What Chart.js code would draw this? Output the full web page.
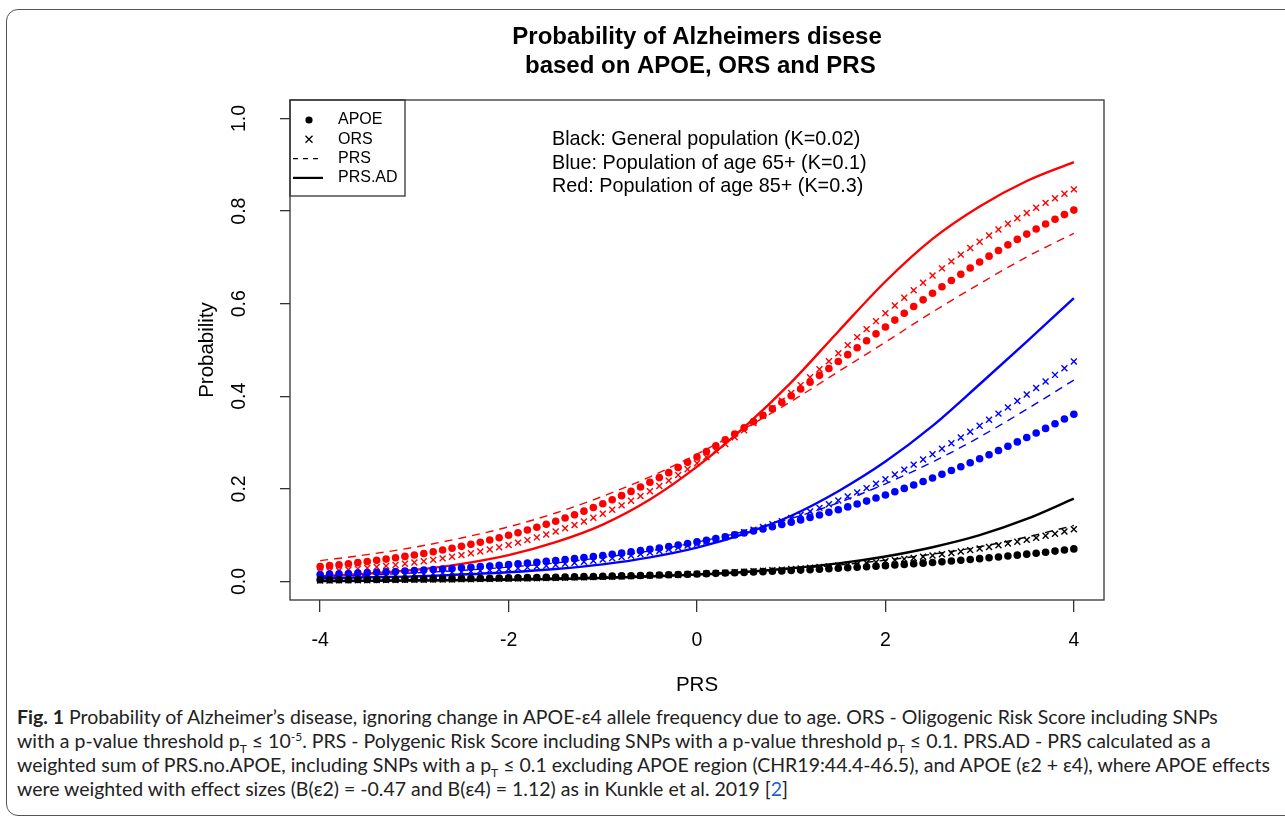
<!DOCTYPE html>
<html>
<head>
<meta charset="utf-8">
<title>Probability of Alzheimers disese</title>
<script src="https://cdn.jsdelivr.net/npm/chart.js@4.4.1/dist/chart.umd.min.js"></script>
<style>
  body { margin: 0; background: #fff; }
  #frame { position: absolute; left: 6px; top: 9px; width: 1300px; height: 805px; border: 1.5px solid #555; border-radius: 12px; }
  #wrap { position: absolute; left: 0; top: 0; width: 1285px; height: 700px; }
  #caption { position: absolute; left: 17px; top: 705px; font-family: Lato, 'Open Sans', sans-serif; font-size: 19.5px; line-height: 24px; color: #222; }
  #caption div { white-space: nowrap; }
  #caption sub, #caption sup { font-size: 12px; line-height: 0; }
  .ref { color: #1f5fc6; }
</style>
</head>
<body>
<div id="frame"></div>
<div id="wrap"><canvas id="chart" width="1285" height="700"></canvas></div>
<div id="caption">
  <div><b>Fig. 1</b> Probability of Alzheimer’s disease, ignoring change in APOE-ε4 allele frequency due to age. ORS - Oligogenic Risk Score including SNPs</div>
  <div>with a p-value threshold p<sub>T</sub> ≤ 10<sup>-5</sup>. PRS - Polygenic Risk Score including SNPs with a p-value threshold p<sub>T</sub> ≤ 0.1. PRS.AD - PRS calculated as a</div>
  <div>weighted sum of PRS.no.APOE, including SNPs with a p<sub>T</sub> ≤ 0.1 excluding APOE region (CHR19:44.4-46.5), and APOE (ε2 + ε4), where APOE effects</div>
  <div>were weighted with effect sizes (B(ε2) = -0.47 and B(ε4) = 1.12) as in Kunkle et al. 2019 [<span class="ref">2</span>]</div>
</div>
<script>
// PRS values where the points were plotted
const prsPoints = [
  -4.0, -3.9, -3.8, -3.7, -3.6, -3.5, -3.4, -3.3, -3.2, -3.1,
  -3.0, -2.9, -2.8, -2.7, -2.6, -2.5, -2.4, -2.3, -2.2, -2.1,
  -2.0, -1.9, -1.8, -1.7, -1.6, -1.5, -1.4, -1.3, -1.2, -1.1,
  -1.0, -0.9, -0.8, -0.7, -0.6, -0.5, -0.4, -0.3, -0.2, -0.1,
  0.0, 0.1, 0.2, 0.3, 0.4, 0.5, 0.6, 0.7, 0.8, 0.9,
  1.0, 1.1, 1.2, 1.3, 1.4, 1.5, 1.6, 1.7, 1.8, 1.9,
  2.0, 2.1, 2.2, 2.3, 2.4, 2.5, 2.6, 2.7, 2.8, 2.9,
  3.0, 3.1, 3.2, 3.3, 3.4, 3.5, 3.6, 3.7, 3.8, 3.9,
  4.0
];
// PRS values for the line curves
const prsLine = [-4, -3.5, -3, -2.5, -2, -1.5, -1, -0.5, 0, 0.5, 1, 1.5, 2, 2.5, 3, 3.5, 4];

const xTicks = [-4, -2, 0, 2, 4];
const yTicks = [0, 0.2, 0.4, 0.6, 0.8, 1.0];

// Red: age 85+ (K=0.3)
const redApoe = [
  0.0323, 0.0342, 0.0363, 0.0384, 0.0407, 0.0431, 0.0456, 0.0483, 0.0512, 0.0542,
  0.0573, 0.0606, 0.0642, 0.0679, 0.0717, 0.0759, 0.0802, 0.0847, 0.0895, 0.0945,
  0.0997, 0.1053, 0.1111, 0.1171, 0.1235, 0.1301, 0.1370, 0.1443, 0.1519, 0.1598,
  0.1680, 0.1766, 0.1854, 0.1946, 0.2042, 0.2142, 0.2244, 0.2351, 0.2461, 0.2573,
  0.2689, 0.2808, 0.2932, 0.3058, 0.3186, 0.3318, 0.3452, 0.3589, 0.3729, 0.3870,
  0.4013, 0.4158, 0.4305, 0.4452, 0.4601, 0.4750, 0.4900, 0.5050, 0.5200, 0.5349,
  0.5498, 0.5646, 0.5793, 0.5939, 0.6083, 0.6225, 0.6365, 0.6502, 0.6637, 0.6770,
  0.6900, 0.7027, 0.7150, 0.7271, 0.7389, 0.7503, 0.7613, 0.7721, 0.7824, 0.7925,
  0.8022
];
const redOrs = [
  0.0208, 0.0223, 0.0239, 0.0255, 0.0273, 0.0292, 0.0313, 0.0335, 0.0358, 0.0383,
  0.0409, 0.0437, 0.0467, 0.0499, 0.0533, 0.0569, 0.0608, 0.0648, 0.0692, 0.0738,
  0.0787, 0.0839, 0.0894, 0.0952, 0.1014, 0.1079, 0.1148, 0.1220, 0.1297, 0.1377,
  0.1462, 0.1550, 0.1644, 0.1742, 0.1844, 0.1950, 0.2062, 0.2178, 0.2299, 0.2424,
  0.2554, 0.2689, 0.2827, 0.2970, 0.3117, 0.3268, 0.3423, 0.3581, 0.3743, 0.3907,
  0.4073, 0.4242, 0.4413, 0.4585, 0.4758, 0.4931, 0.5105, 0.5278, 0.5451, 0.5623,
  0.5793, 0.5962, 0.6128, 0.6291, 0.6452, 0.6609, 0.6763, 0.6914, 0.7060, 0.7202,
  0.7340, 0.7474, 0.7602, 0.7727, 0.7846, 0.7961, 0.8072, 0.8178, 0.8279, 0.8376,
  0.8469
];
const redPrs = [0.045, 0.058, 0.074, 0.094, 0.118, 0.148, 0.184, 0.226, 0.275, 0.330, 0.389, 0.453, 0.517, 0.582, 0.643, 0.701, 0.752];
const redPrsAd = [0.011, 0.017, 0.025, 0.038, 0.057, 0.085, 0.123, 0.177, 0.248, 0.333, 0.430, 0.540, 0.648, 0.740, 0.810, 0.865, 0.906];

// Blue: age 65+ (K=0.1)
const blueApoe = [
  0.0152, 0.0159, 0.0166, 0.0174, 0.0182, 0.0190, 0.0198, 0.0207, 0.0217, 0.0226,
  0.0237, 0.0247, 0.0258, 0.0270, 0.0282, 0.0295, 0.0308, 0.0321, 0.0336, 0.0351,
  0.0366, 0.0382, 0.0399, 0.0417, 0.0435, 0.0454, 0.0474, 0.0495, 0.0517, 0.0539,
  0.0562, 0.0587, 0.0612, 0.0639, 0.0666, 0.0694, 0.0724, 0.0755, 0.0787, 0.0820,
  0.0855, 0.0891, 0.0928, 0.0966, 0.1006, 0.1048, 0.1091, 0.1135, 0.1182, 0.1230,
  0.1279, 0.1330, 0.1383, 0.1437, 0.1493, 0.1551, 0.1611, 0.1673, 0.1736, 0.1802,
  0.1869, 0.1939, 0.2011, 0.2084, 0.2159, 0.2236, 0.2315, 0.2397, 0.2479, 0.2564,
  0.2650, 0.2739, 0.2829, 0.2921, 0.3015, 0.3111, 0.3208, 0.3307, 0.3407, 0.3509,
  0.3612
];
const blueOrs = [
  0.0087, 0.0092, 0.0097, 0.0103, 0.0109, 0.0115, 0.0122, 0.0129, 0.0137, 0.0145,
  0.0154, 0.0163, 0.0172, 0.0182, 0.0193, 0.0204, 0.0216, 0.0229, 0.0242, 0.0256,
  0.0271, 0.0287, 0.0304, 0.0321, 0.0340, 0.0359, 0.0380, 0.0402, 0.0425, 0.0449,
  0.0474, 0.0501, 0.0529, 0.0559, 0.0591, 0.0624, 0.0659, 0.0695, 0.0734, 0.0774,
  0.0816, 0.0861, 0.0908, 0.0957, 0.1008, 0.1062, 0.1119, 0.1178, 0.1239, 0.1304,
  0.1371, 0.1441, 0.1513, 0.1590, 0.1669, 0.1751, 0.1836, 0.1925, 0.2017, 0.2112,
  0.2210, 0.2311, 0.2416, 0.2524, 0.2634, 0.2749, 0.2866, 0.2986, 0.3109, 0.3234,
  0.3363, 0.3493, 0.3626, 0.3761, 0.3898, 0.4037, 0.4178, 0.4319, 0.4462, 0.4606,
  0.4750
];
const bluePrs = [0.011, 0.014, 0.0185, 0.024, 0.031, 0.040, 0.052, 0.066, 0.085, 0.108, 0.136, 0.170, 0.211, 0.258, 0.312, 0.372, 0.435];
const bluePrsAd = [0.007, 0.009, 0.011, 0.015, 0.020, 0.027, 0.037, 0.052, 0.073, 0.103, 0.142, 0.195, 0.259, 0.336, 0.426, 0.518, 0.612];

// Black: general population (K=0.02)
const blackApoe = [
  0.0036, 0.0037, 0.0039, 0.0040, 0.0042, 0.0044, 0.0045, 0.0047, 0.0049, 0.0051,
  0.0053, 0.0055, 0.0057, 0.0059, 0.0061, 0.0064, 0.0066, 0.0069, 0.0071, 0.0074,
  0.0077, 0.0080, 0.0083, 0.0086, 0.0089, 0.0093, 0.0096, 0.0100, 0.0104, 0.0108,
  0.0112, 0.0116, 0.0121, 0.0125, 0.0130, 0.0135, 0.0140, 0.0146, 0.0151, 0.0157,
  0.0163, 0.0169, 0.0176, 0.0182, 0.0189, 0.0196, 0.0204, 0.0212, 0.0220, 0.0228,
  0.0237, 0.0246, 0.0255, 0.0264, 0.0274, 0.0285, 0.0295, 0.0307, 0.0318, 0.0330,
  0.0342, 0.0355, 0.0368, 0.0382, 0.0396, 0.0411, 0.0426, 0.0442, 0.0458, 0.0475,
  0.0493, 0.0511, 0.0530, 0.0549, 0.0569, 0.0590, 0.0611, 0.0633, 0.0656, 0.0680,
  0.0704
];
const blackOrs = [
  0.0021, 0.0023, 0.0024, 0.0025, 0.0026, 0.0028, 0.0029, 0.0031, 0.0032, 0.0034,
  0.0036, 0.0038, 0.0040, 0.0042, 0.0044, 0.0046, 0.0049, 0.0051, 0.0054, 0.0056,
  0.0059, 0.0062, 0.0066, 0.0069, 0.0073, 0.0076, 0.0081, 0.0085, 0.0089, 0.0094,
  0.0099, 0.0104, 0.0109, 0.0115, 0.0121, 0.0127, 0.0133, 0.0140, 0.0147, 0.0155,
  0.0163, 0.0171, 0.0180, 0.0189, 0.0199, 0.0209, 0.0220, 0.0231, 0.0243, 0.0256,
  0.0269, 0.0282, 0.0297, 0.0312, 0.0327, 0.0344, 0.0361, 0.0379, 0.0398, 0.0418,
  0.0439, 0.0461, 0.0484, 0.0508, 0.0533, 0.0560, 0.0588, 0.0616, 0.0646, 0.0678,
  0.0711, 0.0745, 0.0781, 0.0819, 0.0858, 0.0899, 0.0942, 0.0986, 0.1032, 0.1080,
  0.1130
];
const blackPrs = [0.0019, 0.0025, 0.0033, 0.0044, 0.0057, 0.0074, 0.0097, 0.0126, 0.016, 0.021, 0.027, 0.0354, 0.046, 0.059, 0.075, 0.096, 0.121];
const blackPrsAd = [0.001, 0.0014, 0.002, 0.0028, 0.0039, 0.0055, 0.0076, 0.0106, 0.0148, 0.0205, 0.0285, 0.039, 0.054, 0.074, 0.100, 0.135, 0.179];

const titleLines = ['Probability of Alzheimers disese', ' based on APOE, ORS and PRS'];
const legendLabels = ['APOE', 'ORS', 'PRS', 'PRS.AD'];
const noteLines = [
  'Black: General population (K=0.02)',
  'Blue: Population of age 65+ (K=0.1)',
  'Red: Population of age 85+ (K=0.3)'
];

const RED = '#ff0000', BLUE = '#0000ff', BLACK = '#000000';
const FONT = "'Liberation Sans', Arial, sans-serif";

function toPoints(xs, ys) {
    return xs.map((x, i) => ({ x: x, y: ys[i] }));
}

function dotSet(label, color, ys) {
    return {
        label: label, data: toPoints(prsPoints, ys), showLine: false,
        pointStyle: 'circle', pointRadius: 3.8, pointBackgroundColor: color,
        pointBorderWidth: 0, pointHoverRadius: 3.8
    };
}

function crossSet(label, color, ys) {
    return {
        label: label, data: toPoints(prsPoints, ys), showLine: false,
        pointStyle: 'crossRot', pointRadius: 4.2, pointBorderColor: color,
        pointBorderWidth: 1.4, pointHoverRadius: 4.2
    };
}

function lineSet(label, color, ys, dashed) {
    return {
        label: label, data: toPoints(prsLine, ys), showLine: true,
        borderColor: color, borderWidth: dashed ? 1.4 : 2.4,
        borderDash: dashed ? [8, 6] : [], pointRadius: 0,
        cubicInterpolationMode: 'monotone', fill: false
    };
}

// title, box, legend and K notes, drawn the way R's base graphics does
const rDecorations = {
    id: 'rDecorations',
    afterDraw(chart) {
        const ctx = chart.ctx;
        const a = chart.chartArea;
        ctx.save();

        ctx.fillStyle = '#000';
        ctx.textAlign = 'center';
        ctx.textBaseline = 'middle';
        ctx.font = 'bold 24px ' + FONT;
        titleLines.forEach((txt, i) => {
            ctx.fillText(txt, (a.left + a.right) / 2, 37 + i * 29);
        });
        ctx.textAlign = 'left';

        ctx.strokeStyle = '#333';
        ctx.lineWidth = 1.3;
        ctx.strokeRect(a.left, a.top, a.right - a.left, a.bottom - a.top);

        // legend
        const lx = a.left, ly = a.top, lw = 115, lh = 96;
        ctx.strokeRect(lx, ly, lw, lh);
        ctx.font = '16px ' + FONT;
        legendLabels.forEach((txt, i) => {
            const cy = ly + 20 + i * 19.3;
            const cx = lx + 19;
            ctx.strokeStyle = '#000';
            if (i === 0) {
                ctx.beginPath();
                ctx.arc(cx, cy, 3.6, 0, Math.PI * 2);
                ctx.fill();
            } else if (i === 1) {
                ctx.lineWidth = 1.3;
                ctx.beginPath();
                ctx.moveTo(cx - 3.5, cy - 3.5); ctx.lineTo(cx + 3.5, cy + 3.5);
                ctx.moveTo(cx + 3.5, cy - 3.5); ctx.lineTo(cx - 3.5, cy + 3.5);
                ctx.stroke();
            } else {
                ctx.lineWidth = i === 2 ? 1.3 : 2.2;
                ctx.setLineDash(i === 2 ? [5, 5] : []);
                ctx.beginPath();
                ctx.moveTo(lx + 3, cy); ctx.lineTo(lx + 33, cy);
                ctx.stroke();
                ctx.setLineDash([]);
            }
            ctx.fillText(txt, lx + 48, cy);
        });

        ctx.font = '19.8px ' + FONT;
        noteLines.forEach((txt, i) => {
            ctx.fillText(txt, a.left + 262, a.top + 40 + i * 23.5);
        });
        ctx.restore();
    }
};

const ctx = document.getElementById('chart').getContext('2d');
new Chart(ctx, {
    type: 'scatter',
    data: {
        datasets: [
            dotSet('APOE K=0.02', BLACK, blackApoe),
            crossSet('ORS K=0.02', BLACK, blackOrs),
            lineSet('PRS K=0.02', BLACK, blackPrs, true),
            lineSet('PRS.AD K=0.02', BLACK, blackPrsAd, false),
            dotSet('APOE K=0.1', BLUE, blueApoe),
            crossSet('ORS K=0.1', BLUE, blueOrs),
            lineSet('PRS K=0.1', BLUE, bluePrs, true),
            lineSet('PRS.AD K=0.1', BLUE, bluePrsAd, false),
            dotSet('APOE K=0.3', RED, redApoe),
            crossSet('ORS K=0.3', RED, redOrs),
            lineSet('PRS K=0.3', RED, redPrs, true),
            lineSet('PRS.AD K=0.3', RED, redPrsAd, false)
        ]
    },
    options: {
        responsive: false,
        animation: false,
        devicePixelRatio: 1,
        layout: { padding: { left: 190, right: 181, top: 100, bottom: 0 } },
        plugins: {
            legend: { display: false },
            tooltip: { enabled: false },
            title: { display: false }
        },
        scales: {
            x: {
                type: 'linear',
                min: -4.32,
                max: 4.32,
                afterBuildTicks: s => { s.ticks = xTicks.map(v => ({ value: v })); },
                afterFit: s => { s.height = 100; },
                ticks: {
                    color: '#000',
                    font: { family: FONT, size: 19.5 },
                    padding: 17,
                    maxRotation: 0,
                    callback: v => String(v)
                },
                grid: { drawOnChartArea: false, drawTicks: true, tickLength: 12, color: '#333', lineWidth: 1.3 },
                border: { display: false },
                title: {
                    display: true, text: 'PRS', color: '#000',
                    font: { family: FONT, size: 20.5 },
                    padding: { top: 0, bottom: 2 }
                }
            },
            y: {
                type: 'linear',
                min: -0.04,
                max: 1.04,
                afterBuildTicks: s => { s.ticks = yTicks.map(v => ({ value: v })); },
                afterFit: s => { s.width = 100; },
                ticks: {
                    color: '#000',
                    font: { family: FONT, size: 19.5 },
                    padding: 26.5,
                    minRotation: 90,
                    maxRotation: 90,
                    crossAlign: 'center',
                    callback: v => v.toFixed(1)
                },
                grid: { drawOnChartArea: false, drawTicks: true, tickLength: 10, color: '#333', lineWidth: 1.3 },
                border: { display: false },
                title: {
                    display: true, text: 'Probability', color: '#000',
                    font: { family: FONT, size: 20.5 },
                    padding: { top: 4.7, bottom: 0 }
                }
            }
        }
    },
    plugins: [rDecorations]
});
</script>
</body>
</html>
